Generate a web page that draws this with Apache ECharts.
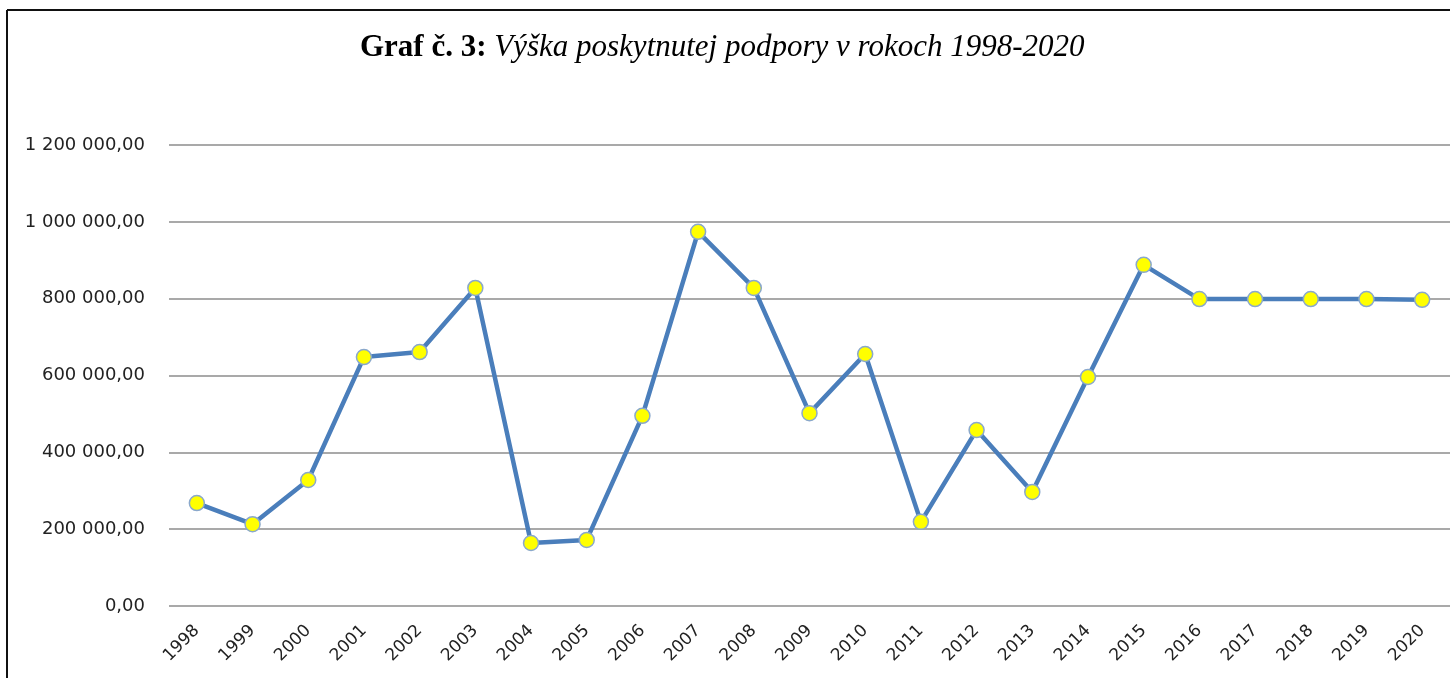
<!DOCTYPE html>
<html>
<head>
<meta charset="utf-8">
<script src="https://cdn.jsdelivr.net/npm/echarts@6/dist/echarts.min.js"></script>
<style>html,body{margin:0;padding:0;background:#fff;}#c{width:1450px;height:678px;}</style>
</head>
<body>
<div id="c"></div>
<script>
const years = ['1998','1999','2000','2001','2002','2003','2004','2005','2006','2007','2008','2009','2010','2011','2012','2013','2014','2015','2016','2017','2018','2019','2020'];
const support = [268000,213000,328000,648000,661000,828000,164000,172000,495000,974000,828000,502000,656000,219000,458000,297000,596000,888000,799000,799000,799000,799000,797000];
const yTicks = {min:0, max:1200000, interval:200000};

function fmt(v){
  const s = Math.round(v).toString().replace(/\B(?=(\d{3})+(?!\d))/g,' ');
  return s + ',00';
}

const chart = echarts.init(document.getElementById('c'));
chart.setOption({
  animation:false,
  backgroundColor:'#fff',
  title:{
    text:'{b|Graf č. 3: }{i|Výška poskytnutej podpory v rokoch 1998-2020}',
    left:355, top:27,
    textStyle:{
      rich:{
        b:{fontFamily:'Liberation Serif', fontWeight:'bold', fontSize:31, color:'#000'},
        i:{fontFamily:'Liberation Serif', fontStyle:'italic', fontWeight:'normal', fontSize:31, color:'#000'}
      }
    }
  },
  graphic:[
    {type:'line', shape:{x1:7,y1:10,x2:1450,y2:10}, style:{stroke:'#111',lineWidth:2}},
    {type:'line', shape:{x1:7,y1:10,x2:7,y2:678}, style:{stroke:'#111',lineWidth:2}}
  ],
  grid:{left:169, right:0, top:145, bottom:72, containLabel:false},
  xAxis:{
    type:'category', data:years, boundaryGap:true,
    axisLine:{show:false}, axisTick:{show:false},
    axisLabel:{rotate:45, fontFamily:'DejaVu Sans', fontSize:17, color:'#222', margin:22, interval:0}
  },
  yAxis:{
    type:'value', min:yTicks.min, max:yTicks.max, interval:yTicks.interval,
    axisLine:{show:false}, axisTick:{show:false},
    axisLabel:{formatter:fmt, fontFamily:'DejaVu Sans', fontSize:18, color:'#222', margin:24},
    splitLine:{lineStyle:{color:'#8c8c8c', width:1.5}}
  },
  series:[{
    type:'line', data:support,
    symbol:'circle', symbolSize:15,
    lineStyle:{color:'#4a7ebb', width:4.5},
    itemStyle:{color:'#ffff00', borderColor:'#8aa8cc', borderWidth:1.5}
  }]
});
</script>
</body>
</html>
